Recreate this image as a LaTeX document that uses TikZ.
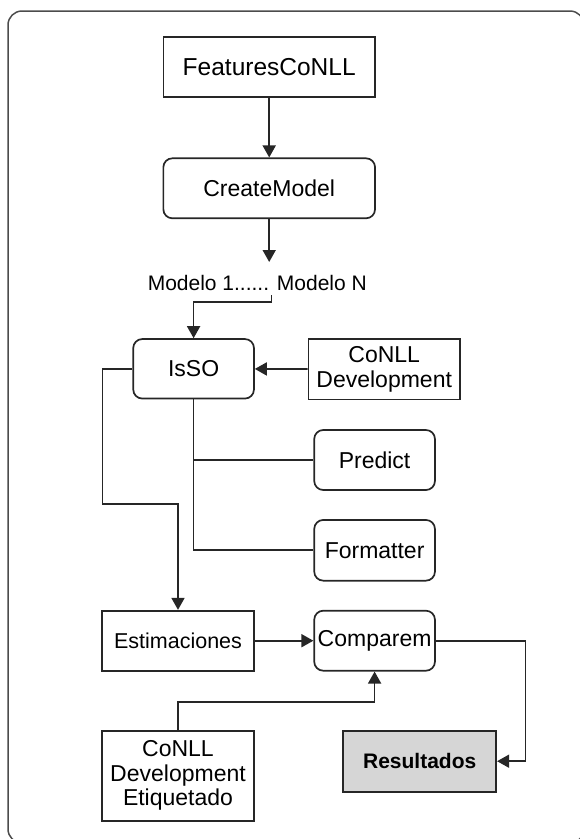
\documentclass[tikz,border=0pt]{standalone}
\usepackage{fontspec}
\setmainfont{Liberation Sans}
\usetikzlibrary{arrows.meta}
\begin{document}
\begin{tikzpicture}[x=1pt,y=-1pt,
  every node/.style={inner sep=2pt, align=center, text=black},
  box/.style={draw=black!85, line width=1.7pt, font=\fontsize{23}{25}\selectfont},
  rbox/.style={box, rounded corners=9pt},
  conn/.style={draw=black!85, line width=1.7pt},
  arr/.style={conn, -{Triangle[width=13pt,length=12pt]}},
]
\useasboundingbox (0,0) rectangle (579,839);
\draw[rounded corners=14pt, line width=1.5pt, draw=black!70] (8,11) rectangle (584,843);

\node[box, minimum width=211.7pt, minimum height=60.6pt, font=\fontsize{24.5}{26}\selectfont] (feat) at (269.2,67) {FeaturesCoNLL};
\node[rbox, minimum width=211.7pt, minimum height=60pt] (create) at (269.2,188.3) {CreateModel};
\node[font=\fontsize{21}{23}\selectfont] (modelo) at (257.3,282.7) {Modelo 1...... Modelo N};
\node[rbox, minimum width=120.7pt, minimum height=59.5pt] (isso) at (193.6,368.8) {IsSO};
\node[box, minimum width=151.7pt, minimum height=60.3pt] (dev) at (384.2,369.2) {CoNLL\\Development};
\node[rbox, minimum width=120.7pt, minimum height=60pt] (predict) at (374.6,460) {Predict};
\node[rbox, minimum width=120.7pt, minimum height=60.7pt] (formatter) at (374.6,550.3) {Formatter};
\node[box, minimum width=151.6pt, minimum height=60pt, font=\fontsize{21.5}{24}\selectfont] (estim) at (178,640.7) {Estimaciones};
\node[rbox, minimum width=120.7pt, minimum height=60pt, inner sep=0pt] (comparem) at (374.6,640.7) {Comparem};
\node[box, fill=black!16, minimum width=153.1pt, minimum height=61pt, font=\fontsize{21}{23}\selectfont\bfseries] (result) at (419.7,761.2) {Resultados};
\node[box, minimum width=151.6pt, minimum height=90.3pt, font=\fontsize{23}{24.5}\selectfont] (etiq) at (178,775.8) {CoNLL\\Development\\Etiquetado};

\coordinate (m1) at (269.2,262);
\coordinate (m2) at (271.5,295);
\coordinate (m3) at (271.5,301.7);
\coordinate (l1) at (102.5,368.8);
\coordinate (l2) at (102.5,504.3);
\coordinate (l3) at (178,504.3);
\coordinate (r1) at (525.5,640.7);
\coordinate (e1) at (374.6,701.7);

\draw[arr] (feat) -- (create);
\draw[arr] (create) -- (m1);
\draw[arr] (m2) -- (m3) -| (isso.north);
\draw[arr] (dev) -- (isso);
\draw[arr] (isso.west) -- (l1) -- (l2) -- (l3) -- (estim.north);
\draw[conn] (isso.south) |- (formatter.west);
\draw[conn] (isso.south |- predict.west) -- (predict.west);
\draw[arr] (estim) -- (comparem);
\draw[arr] (comparem.east) -- (r1) |- (result.east);
\draw[arr] (etiq.north) |- (e1) -- (comparem.south);
\end{tikzpicture}
\end{document}
